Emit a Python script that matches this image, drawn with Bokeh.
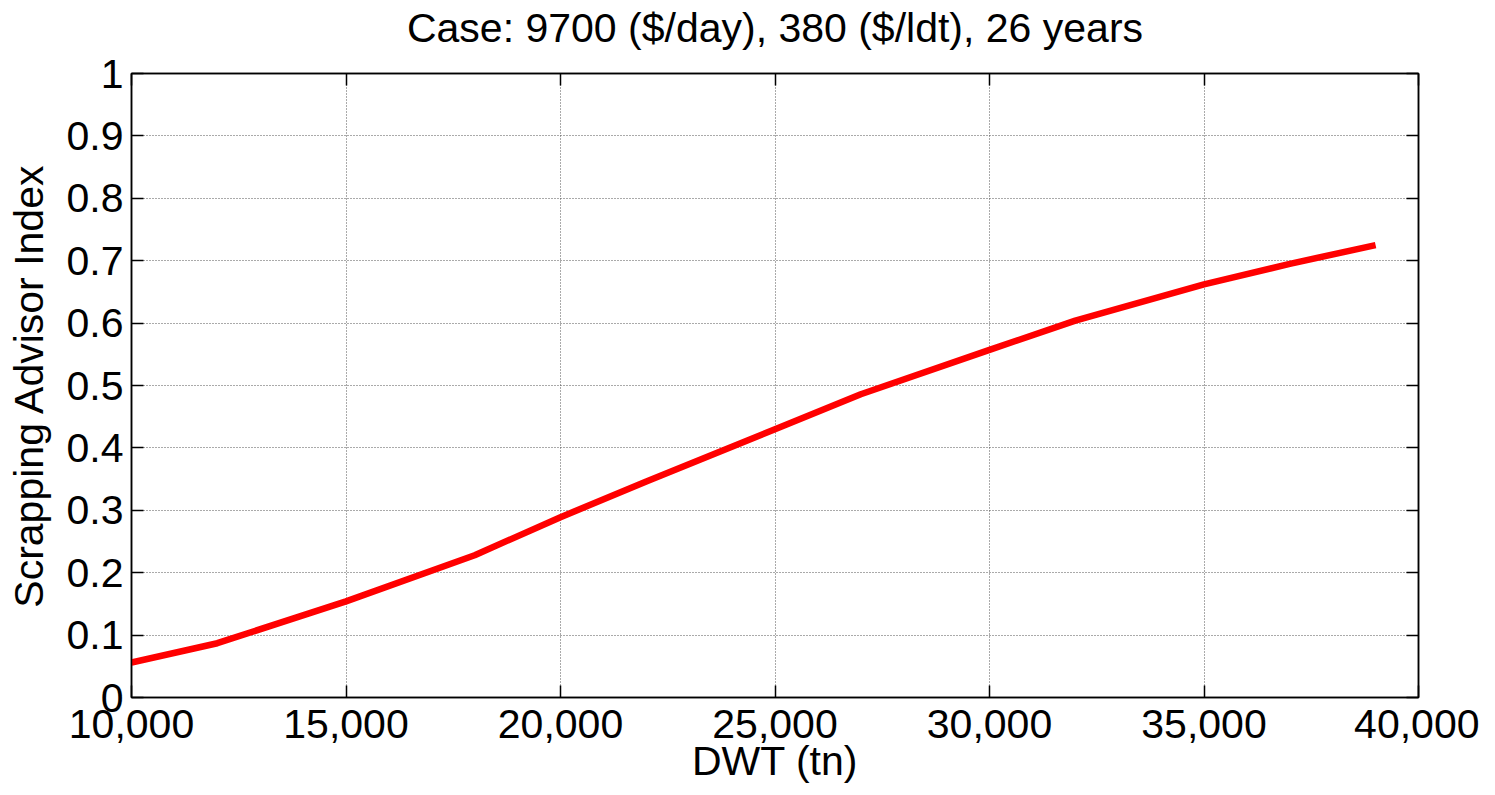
from bokeh.plotting import figure
from bokeh.models import Range1d, FixedTicker, LinearAxis, NumeralTickFormatter
from bokeh.embed import file_html
from bokeh.resources import INLINE

# ---- data ----
dwt = [10000, 12000, 15000, 18000, 20000, 22000, 25000, 27000, 30000, 32000, 35000, 37000, 39000]
index_vals = [0.056, 0.087, 0.154, 0.228, 0.289, 0.346, 0.430, 0.486, 0.557, 0.604, 0.662, 0.695, 0.725]
x_ticks = [10000, 15000, 20000, 25000, 30000, 35000, 40000]
y_ticks = [0.0, 0.1, 0.2, 0.3, 0.4, 0.5, 0.6, 0.7, 0.8, 0.9, 1.0]
y_tick_labels = ["0", "0.1", "0.2", "0.3", "0.4", "0.5", "0.6", "0.7", "0.8", "0.9", "1"]
title_text = "Case: 9700 ($/day), 380 ($/ldt), 26 years"
x_label = "DWT (tn)"
y_label = "Scrapping Advisor Index"

FONT = "Liberation Sans"
FS = "41px"

p = figure(width=1479, height=787, output_backend="svg", toolbar_location=None,
           x_range=Range1d(10000, 40000), y_range=Range1d(0, 1),
           min_border_left=131, min_border_right=61,
           min_border_top=73, min_border_bottom=90)

p.outline_line_color = "black"
p.outline_line_width = 1.5
p.background_fill_color = "white"
p.border_fill_color = "white"

def style_axis(ax, labels=True):
    ax.axis_line_color = "black"
    ax.axis_line_width = 1.5
    ax.major_tick_line_color = "black"
    ax.major_tick_line_width = 1.5
    ax.major_tick_in = 12
    ax.major_tick_out = 0
    ax.minor_tick_line_color = None
    ax.major_label_text_font = FONT
    ax.major_label_text_font_size = FS if labels else "0px"
    ax.major_label_text_color = "black"
    ax.axis_label_text_font = FONT
    ax.axis_label_text_font_size = FS
    ax.axis_label_text_font_style = "normal"
    ax.axis_label_text_color = "black"

xa = p.xaxis[0]
ya = p.yaxis[0]
style_axis(xa)
style_axis(ya)
xa.ticker = FixedTicker(ticks=x_ticks)
xa.formatter = NumeralTickFormatter(format="0,0")
xa.axis_label = x_label
xa.major_label_standoff = 12
xa.axis_label_standoff = -3
ya.ticker = FixedTicker(ticks=y_ticks)
ya.major_label_overrides = {t: s for t, s in zip(y_ticks, y_tick_labels)}
ya.axis_label = y_label
ya.major_label_standoff = 8
ya.axis_label_standoff = 12

# top axis carries the chart title as its label
top_ax = LinearAxis(ticker=FixedTicker(ticks=x_ticks))
style_axis(top_ax, labels=False)
top_ax.major_label_standoff = 0
top_ax.axis_label = title_text
top_ax.axis_label_standoff = 23
right_ax = LinearAxis(ticker=FixedTicker(ticks=y_ticks))
style_axis(right_ax, labels=False)
right_ax.major_label_standoff = 0
p.add_layout(top_ax, "above")
p.add_layout(right_ax, "right")

for g in (p.xgrid[0], p.ygrid[0]):
    g.grid_line_color = "#555555"
    g.grid_line_width = 1
    g.grid_line_dash = "1 2"
p.xgrid[0].ticker = FixedTicker(ticks=x_ticks)
p.ygrid[0].ticker = FixedTicker(ticks=y_ticks)

p.line(dwt, index_vals, line_color="#ff0000", line_width=6.5)

open("out.html", "w").write(file_html(p, INLINE))
